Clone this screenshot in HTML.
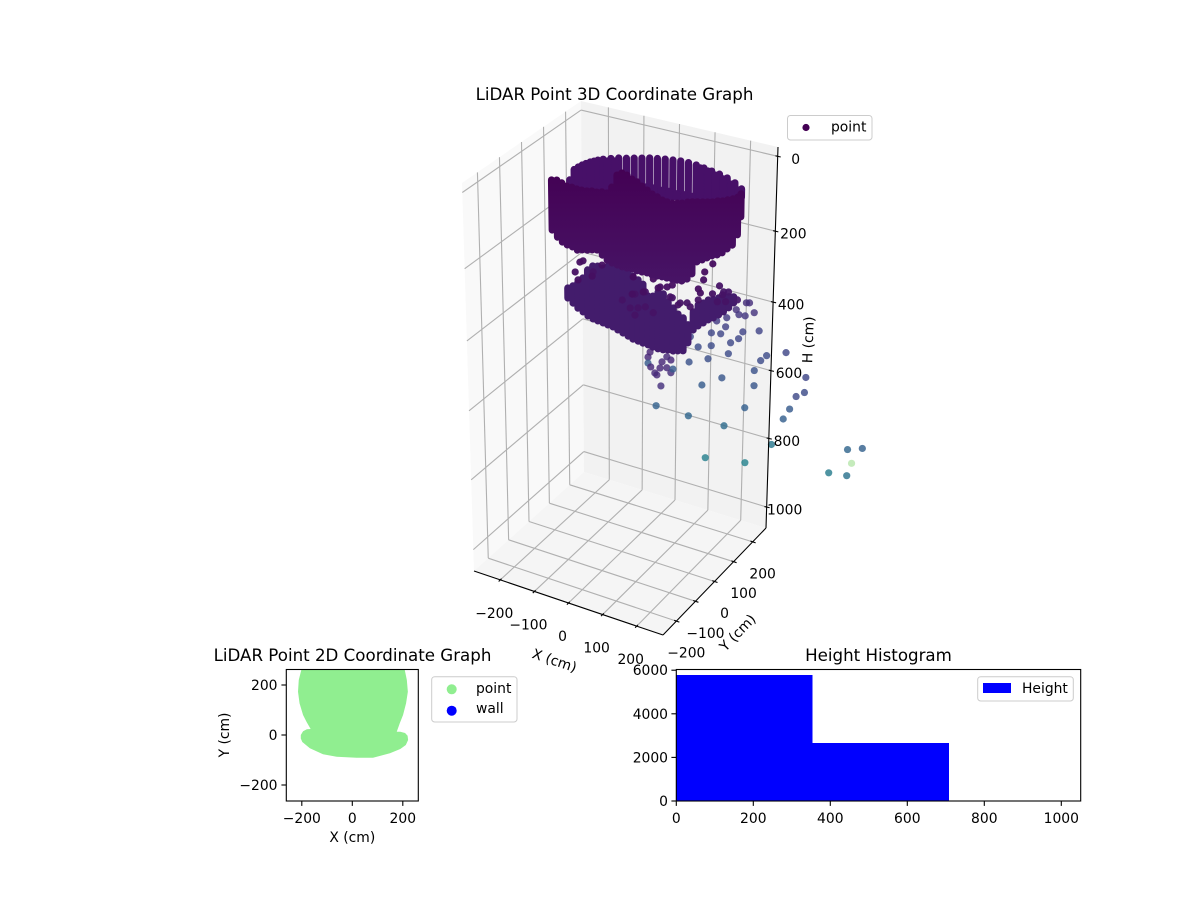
<!DOCTYPE html>
<html lang="en">
<head>
<meta charset="utf-8">
<title>LiDAR Point Graphs</title>
<style>
html,body{margin:0;padding:0;background:#fff;}
svg{display:block;font-family:"DejaVu Sans","Liberation Sans",sans-serif;font-size:13.89px;fill:#000;}
.title{font-size:16.67px;text-anchor:middle;}
</style>
</head>
<body>
<svg id="figure" xmlns="http://www.w3.org/2000/svg" width="1200" height="900" viewBox="0 0 1200 900">
  <defs>
    <linearGradient id="wall-gradient" gradientUnits="userSpaceOnUse" x1="0" y1="170" x2="0" y2="285">
      <stop offset="0" stop-color="#440154"/><stop offset="1" stop-color="#471466"/>
    </linearGradient>
    <clipPath id="clip-2d"><rect x="286.3" y="669.5" width="132" height="131.5"/></clipPath>
    <clipPath id="clip-hist"><rect x="676.3" y="669.5" width="404.4" height="131.5"/></clipPath>
  </defs>

  <rect x="0" y="0" width="1200" height="900" fill="#fff"/>

  <g id="frame3d"></g>
  <g id="cloud3d"></g>
  <g id="ticks3d"></g>

  <text class="title" x="614.5" y="100">LiDAR Point 3D Coordinate Graph</text>
  <text text-anchor="middle" transform="translate(553,665) rotate(18.7)">X (cm)</text>
  <text text-anchor="middle" transform="translate(741,636) rotate(-46)">Y (cm)</text>
  <text text-anchor="middle" transform="translate(813,340) rotate(-88)">H (cm)</text>

  <g>
    <rect x="787.5" y="115.5" width="84.5" height="24.5" rx="3" fill="#fff" fill-opacity="0.8" stroke="#ccc"/>
    <circle cx="806" cy="127.5" r="3.6" fill="#440154"/>
    <text x="831" y="131.5">point</text>
  </g>

  <g id="chart2d"></g>
  <text class="title" x="352.5" y="661">LiDAR Point 2D Coordinate Graph</text>
  <text text-anchor="middle" x="352.3" y="842">X (cm)</text>
  <text text-anchor="middle" transform="translate(229,735) rotate(-90)">Y (cm)</text>
  <g>
    <rect x="431.7" y="676.7" width="85.3" height="45.3" rx="3" fill="#fff" fill-opacity="0.8" stroke="#ccc"/>
    <circle cx="451.7" cy="689.3" r="5" fill="#90ee90"/>
    <text x="476" y="693">point</text>
    <circle cx="451.7" cy="710.7" r="5" fill="#0000ff"/>
    <text x="476" y="713">wall</text>
  </g>

  <g id="hist"></g>
  <text class="title" x="878.5" y="661">Height Histogram</text>
  <g>
    <rect x="977.7" y="676.7" width="95.6" height="24.3" rx="3" fill="#fff" fill-opacity="0.8" stroke="#ccc"/>
    <rect x="983" y="683" width="28" height="10" fill="#0000ff"/>
    <text x="1022" y="693">Height</text>
  </g>
</svg>

<script>
/* ---------- 3D axis ticks ---------- */
const xTicks3d = [-200, -100, 0, 100, 200];
const yTicks3d = [-200, -100, 0, 100, 200];
const hTicks3d = [0, 200, 400, 600, 800, 1000];

/* ---------- 3D cloud; depth cannot be read, so all sit on one plane ---------- */
const cloudPlaneY = 100;

const wallX = [-257,-242,-228,-214,-199,-185,-171,-156,-142,-128,-113,-99,-85,-70,-56,-42,-27,-13,1,16,30,45,59,73,88,102,116,131,145,159,174,188,202,217,231,245,260,274,283];
const wallTopH = [112,109,114,120,120,122,122,121,118,118,114,114,94,56,47,50,58,63,72,80,88,93,99,101,101,98,95,89,85,82,79,76,73,67,64,58,52,44,33];
const wallBottomH = [258,275,286,291,293,299,295,292,288,285,296,307,312,314,316,316,315,317,317,316,318,318,317,317,316,316,315,306,288,251,242,233,224,218,209,195,181,149,97];

const combX = [-205,-192,-180,-169,-158,-146,-135,-124,-109,-87,-65,-43,-21,1,23,45,67,89,111,133,155,177,199,221,243,265,284];
const combTopH = [100,67,57,49,42,35,30,25,19,12,6,2,-3,-8,-13,-16,-19,-21,-23,-23,-21,-17,-13,-9,-3,6,19];
const combBottomH = [150,147,144,141,139,136,134,131,128,123,118,113,108,103,98,93,88,84,79,74,69,65,60,55,50,46,42];

const ringFillX = [-98,-76,-54,-32,-10,12,34,56,78,100,122,144,166,188,210,232,254,275];
const ringFillTopH = [22,17,84,79,74,72,70,72,70,72,70,70,-15,-11,-4,2,12,24];
const ringFillBottomH = [126,121,116,110,105,100,95,90,86,81,76,71,67,62,57,53,48,44];

const carpetX = [-214,-199,-185,-170,-156,-141,-127,-112,-98,-83,-69,-54,-39,-25,-10,4,19,33,48,63,77,92,106,121,135,150,164,179,193,208,223,237,252,266];
const carpetTopH = [416,406,394,376,349,334,331,333,324,326,322,319,327,335,342,351,381,378,363,364,384,397,411,418,434,394,371,362,350,346,337,331,327,324];
const carpetBottomH = [445,456,467,474,482,487,489,491,493,495,500,505,510,515,517,519,520,523,524,523,520,519,515,511,485,445,430,418,406,397,385,373,358,341];

const upperX = [-169,-192,-184,-140,-114,205,182,179,225,164,170,34,74,48,11,-24,-19,-56,83,112,164,132,205,237,251,277,
  -143,-27,5,11,-10,-33,34,-19,54,89,89,106,141,219,234,243,-178];
const upperH = [326,364,385,351,325,246,274,297,303,326,336,329,342,351,371,337,385,411,368,378,357,373,330,317,314,330,
  364,387,373,414,422,428,425,445,347,333,369,385,382,349,326,343,332];
const upperC = [0.04,0.04,0.04,0.05,0.04,0.03,0.03,0.04,0.05,0.04,0.04,0.03,0.04,0.04,0.05,0.03,0.05,0.05,0.05,0.05,0.05,0.05,0.05,0.06,0.06,0.07,
  0.04,0.04,0.04,0.05,0.05,0.05,0.05,0.05,0.04,0.04,0.05,0.05,0.05,0.05,0.05,0.05,0.04];

const looseX = [303,312,274,282,300,326,247,218,341,294,244,282,259,230,203,142,203,165,253,194,139,420,364,347,329,235,479,177,329,476,452,
  19,25,19,27,39,45,60,54,74,86,74,86,92,57,
  434,416,303,43,138,243,383,189,306,606,649,553,606];
const looseH = [332,330,358,370,369,354,387,403,401,415,413,437,454,436,440,466,476,489,486,515,538,442,464,482,514,558,496,593,556,538,555,
  555,539,572,581,595,599,558,577,540,546,571,582,570,627,
  594,626,624,687,690,690,705,794,776,661,647,738,732];
const looseC = [0.13,0.13,0.14,0.16,0.16,0.15,0.17,0.17,0.2,0.2,0.19,0.21,0.22,0.21,0.21,0.21,0.23,0.23,0.23,0.24,0.25,0.21,0.23,0.23,0.25,0.27,0.21,0.29,0.27,0.23,0.22,
  0.11,0.1,0.28,0.11,0.12,0.12,0.11,0.11,0.11,0.11,0.12,0.13,0.28,0.14,
  0.28,0.3,0.3,0.31,0.33,0.35,0.4,0.43,0.44,0.33,0.31,0.42,0.38];

const outlierX = [619];
const outlierH = [695];
const outlierC = [0.78];

/* ---------- 2D chart ---------- */
const xTicks2d = [-200, 0, 200];
const yTicks2d = [-200, 0, 200];
const pointContourX = [-201,-212,-215,-209,-195,-181,-165,-180,-195,-204,-204,-198,-168,-116,-62,17,82,149,190,212,221,219,209,190,176,188,201,213,220,216,207];
const pointContourY = [264,220,173,127,80,52,24,23,15,0,-14,-28,-53,-77,-87,-91,-91,-73,-56,-40,-20,-3,8,13,13,47,80,127,173,220,264];

/* ---------- Histogram ---------- */
const histEdges = [0, 354, 708, 1063];
const histCounts = [5780, 2660, 14];
const histXTicks = [0, 200, 400, 600, 800, 1000];
const histYTicks = [0, 2000, 4000, 6000];

/* ---------- Helpers ---------- */
const SVG_NS = 'http://www.w3.org/2000/svg';
function line(parent, name, x1, y1, x2, y2, stroke, width, opts) {
  const el = document.createElementNS(SVG_NS, 'line');
  
  
  el.setAttribute('x1', x1.toFixed(2));
  el.setAttribute('y1', y1.toFixed(2));
  el.setAttribute('x2', x2.toFixed(2));
  el.setAttribute('y2', y2.toFixed(2));
  el.setAttribute('stroke', stroke);
  el.setAttribute('stroke-width', width);
  if (opts && opts.round) el.setAttribute('stroke-linecap', 'round');
  if (opts && opts.opacity) el.setAttribute('stroke-opacity', opts.opacity);
  parent.appendChild(el);
  return el;
}
function label(parent, name, x, y, str, anchor) {
  const el = document.createElementNS(SVG_NS, 'text');
  
  
  el.setAttribute('x', x.toFixed(2));
  el.setAttribute('y', y.toFixed(2));
  el.setAttribute('text-anchor', anchor);
  el.textContent = String(str).replace('-', '\u2212');
  parent.appendChild(el);
  return el;
}
function polygon(parent, name, pts, fill) {
  const el = document.createElementNS(SVG_NS, 'polygon');
  
  
  el.setAttribute('points', pts.map(p => p[0].toFixed(2) + ',' + p[1].toFixed(2)).join(' '));
  el.setAttribute('fill', fill);
  parent.appendChild(el);
  return el;
}
function rect(parent, name, x, y, w, h, fill, stroke, clip) {
  const el = document.createElementNS(SVG_NS, 'rect');
  
  
  el.setAttribute('x', x.toFixed(2));
  el.setAttribute('y', y.toFixed(2));
  el.setAttribute('width', w.toFixed(2));
  el.setAttribute('height', h.toFixed(2));
  el.setAttribute('fill', fill);
  if (stroke) { el.setAttribute('stroke', stroke); el.setAttribute('stroke-width', '1.1'); }
  if (clip) { el.setAttribute('clip-path', clip); el.setAttribute('shape-rendering', 'crispEdges'); }
  parent.appendChild(el);
  return el;
}
function dot(parent, name, p, r, fill, opacity) {
  const el = document.createElementNS(SVG_NS, 'circle');
  
  
  el.setAttribute('cx', p[0].toFixed(2));
  el.setAttribute('cy', p[1].toFixed(2));
  el.setAttribute('r', r);
  el.setAttribute('fill', fill);
  el.setAttribute('fill-opacity', opacity);
  parent.appendChild(el);
  return el;
}

/* ---------- Viridis colour scale ---------- */
const VIRIDIS = [[68,1,84],[72,36,117],[65,68,135],[53,95,141],[42,120,142],[33,145,140],[34,168,132],[68,191,112],[122,209,81],[189,223,38],[253,231,37]];
function viridis(t) {
  const s = Math.max(0, Math.min(0.9999, t)) * 10, i = Math.floor(s), f = s - i;
  const a = VIRIDIS[i], b = VIRIDIS[i + 1];
  return 'rgb(' + [0,1,2].map(k => Math.round(a[k] + (b[k] - a[k]) * f)).join(',') + ')';
}

/* ---------- 3D projection: trilinear through the box corners ---------- */
const FRAME_BOX = {t00:[462,183], t10:[655,228], t01:[581,101], t11:[778,147],
                   b00:[474,571], b10:[663,635], b01:[584,472], b11:[766,528]};
const CLOUD_BOX = {t00:[463,190], t10:[655,234], t01:[581,107], t11:[778,147],
                   b00:[474,571], b10:[663,635], b01:[584,472], b11:[766,528]};
function uOf(x) { return (x + 277) / 554; }
function vOf(y) { return (y + 270) / 540; }
function tri(box, u, v, w) {
  const out = [0, 0];
  for (let k = 0; k < 2; k++) {
    const top = (1-u)*(1-v)*box.t00[k] + u*(1-v)*box.t10[k] + (1-u)*v*box.t01[k] + u*v*box.t11[k];
    const bot = (1-u)*(1-v)*box.b00[k] + u*(1-v)*box.b10[k] + (1-u)*v*box.b01[k] + u*v*box.b11[k];
    out[k] = top * (1 - w) + bot * w;
  }
  return out;
}
function cloudPoint(x, y, h) { return tri(CLOUD_BOX, uOf(x), vOf(y), (h + 20) / 1080); }
function frameW(h) { const w = (h + 24) / 1084; return w + 0.11 * w * (1 - w) * (1 - w); }

/* ---------- 3D frame ---------- */
const frame = document.getElementById('frame3d');
const B = FRAME_BOX;
polygon(frame, 'left-pane', [B.t00, B.t01, B.b01, B.b00], '#f9f9f9');
polygon(frame, 'back-pane', [B.t01, B.t11, B.b11, B.b01], '#f2f2f2');
polygon(frame, 'floor-pane', [B.b00, B.b10, B.b11, B.b01], '#f5f5f5');
const GRID = '#b0b0b0';
xTicks3d.forEach(x => {
  const u = uOf(x), a = tri(B, u, 1, 0), b = tri(B, u, 1, 1), c = tri(B, u, 0, 1);
  line(frame, 'x-gridline-back', a[0], a[1], b[0], b[1], GRID, 1.1);
  line(frame, 'x-gridline-floor', b[0], b[1], c[0], c[1], GRID, 1.1);
});
yTicks3d.forEach(y => {
  const v = vOf(y), a = tri(B, 0, v, 0), b = tri(B, 0, v, 1), c = tri(B, 1, v, 1);
  line(frame, 'y-gridline-left', a[0], a[1], b[0], b[1], GRID, 1.1);
  line(frame, 'y-gridline-floor', b[0], b[1], c[0], c[1], GRID, 1.1);
});
hTicks3d.forEach(h => {
  const w = frameW(h), a = tri(B, 0, 0, w), b = tri(B, 0, 1, w), c = tri(B, 1, 1, w);
  line(frame, 'h-gridline-left', a[0], a[1], b[0], b[1], GRID, 1.1);
  line(frame, 'h-gridline-back', b[0], b[1], c[0], c[1], GRID, 1.1);
});

/* ---------- 3D cloud ---------- */
const cloud = document.getElementById('cloud3d');
const MARK = 3.6;
const COLUMN = 7.2;
looseX.forEach((x, i) => {
  dot(cloud, 'scatter-point', cloudPoint(x, cloudPlaneY, looseH[i]), MARK, viridis(looseC[i]), 0.82);
});
outlierX.forEach((x, i) => {
  dot(cloud, 'outlier-point', cloudPoint(x, cloudPlaneY, outlierH[i]), MARK, viridis(outlierC[i]), 0.4);
});
carpetX.forEach((x, i) => {
  const a = cloudPoint(x, cloudPlaneY, carpetTopH[i]), b = cloudPoint(x, cloudPlaneY, carpetBottomH[i]);
  line(cloud, 'lower-point-column', a[0], a[1], b[0], b[1], '#431c6c', COLUMN, {round: true});
});
upperX.forEach((x, i) => {
  dot(cloud, 'upper-point', cloudPoint(x, cloudPlaneY, upperH[i]), MARK, viridis(upperC[i]), 0.95);
});
combX.forEach((x, i) => {
  const a = cloudPoint(x, cloudPlaneY, combTopH[i]), b = cloudPoint(x, cloudPlaneY, combBottomH[i]);
  line(cloud, 'ring-point-column', a[0], a[1], b[0], b[1], '#471068', COLUMN, {round: true});
});
ringFillX.forEach((x, i) => {
  const a = cloudPoint(x, cloudPlaneY, ringFillTopH[i]), b = cloudPoint(x, cloudPlaneY, ringFillBottomH[i]);
  line(cloud, 'ring-fill-column', a[0], a[1], b[0], b[1], '#471068', COLUMN, {round: true});
});
wallX.forEach((x, i) => {
  const a = cloudPoint(x, cloudPlaneY, wallTopH[i]), b = cloudPoint(x, cloudPlaneY, wallBottomH[i]);
  line(cloud, 'wall-point-column', a[0], a[1], b[0], b[1], 'url(#wall-gradient)', COLUMN, {round: true});
});

/* ---------- 3D axes and ticks ---------- */
const t3 = document.getElementById('ticks3d');
line(t3, 'x-axis-line-3d', B.b00[0], B.b00[1], B.b10[0], B.b10[1], '#000', 1.1);
line(t3, 'y-axis-line-3d', B.b10[0], B.b10[1], B.b11[0], B.b11[1], '#000', 1.1);
line(t3, 'h-axis-line-3d', B.b11[0], B.b11[1], B.t11[0], B.t11[1], '#000', 1.1);
xTicks3d.forEach(x => {
  const p = tri(B, uOf(x), 0, 1);
  line(t3, 'x-tick-3d', p[0] + 1.2, p[1] - 1.2, p[0] - 1.6, p[1] + 1.6, '#000', 1.1);
  label(t3, 'x-tick-label-3d', p[0] - 6, p[1] + 38, x, 'middle');
});
yTicks3d.forEach(y => {
  const p = tri(B, 1, vOf(y), 1);
  line(t3, 'y-tick-3d', p[0] - 2.2, p[1] - 0.8, p[0] + 3, p[1] + 1, '#000', 1.1);
  label(t3, 'y-tick-label-3d', p[0] + 10, p[1] + 36.5, y, 'middle');
});
hTicks3d.forEach(h => {
  const p = tri(B, 1, 1, frameW(h));
  line(t3, 'h-tick-3d', p[0] - 2.2, p[1] - 0.5, p[0] + 3, p[1] + 0.7, '#000', 1.1);
  label(t3, 'h-tick-label-3d', p[0] + 18, p[1] + 7.5, h, 'middle');
});

/* ---------- 2D chart ---------- */
const c2 = document.getElementById('chart2d');
function sx2(x) { return 352.3 + x * 0.2525; }
function sy2(y) { return 735 - y * 0.25; }
const poly2 = polygon(c2, 'point-footprint', pointContourX.map((x, i) => [sx2(x), sy2(pointContourY[i])]), '#90ee90');
poly2.setAttribute('clip-path', 'url(#clip-2d)');
rect(c2, 'axes-frame-2d', 286.3, 669.5, 132, 131.5, 'none', '#000');
xTicks2d.forEach(x => {
  line(c2, 'x-tick-2d', sx2(x), 801, sx2(x), 805.9, '#000', 1.1);
  label(c2, 'x-tick-label-2d', sx2(x), 823, x, 'middle');
});
yTicks2d.forEach(y => {
  line(c2, 'y-tick-2d', 286.3, sy2(y), 281.4, sy2(y), '#000', 1.1);
  label(c2, 'y-tick-label-2d', 277.5, sy2(y) + 5, y, 'end');
});

/* ---------- Histogram ---------- */
const hg = document.getElementById('hist');
function sxH(v) { return 676.3 + v * 0.385; }
function syH(c) { return 801 - c * 0.0218; }
histCounts.forEach((c, i) => {
  rect(hg, 'histogram-bar', sxH(histEdges[i]), syH(c), sxH(histEdges[i + 1]) - sxH(histEdges[i]), 801 - syH(c), '#0000ff', null, 'url(#clip-hist)');
});
rect(hg, 'axes-frame-histogram', 676.3, 669.5, 404.4, 131.5, 'none', '#000');
histXTicks.forEach(v => {
  line(hg, 'x-tick-histogram', sxH(v), 801, sxH(v), 805.9, '#000', 1.1);
  label(hg, 'x-tick-label-histogram', sxH(v), 823, v, 'middle');
});
histYTicks.forEach(v => {
  line(hg, 'y-tick-histogram', 676.3, syH(v), 671.4, syH(v), '#000', 1.1);
  label(hg, 'y-tick-label-histogram', 668, syH(v) + 5, v, 'end');
});
</script>
</body>
</html>
